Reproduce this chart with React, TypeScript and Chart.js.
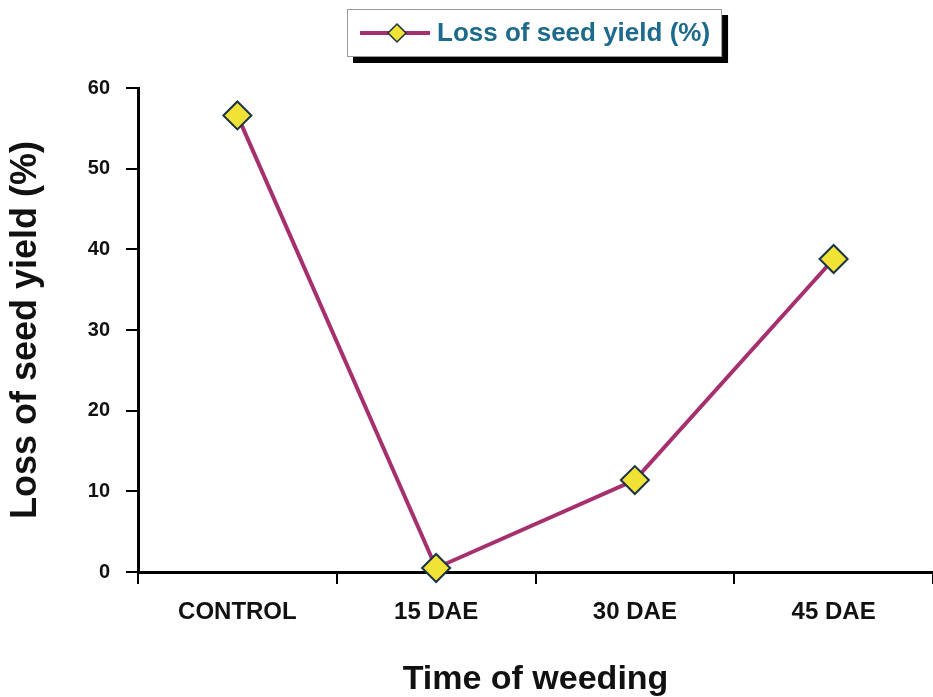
import React, { useEffect, useRef } from "react";
import { Chart, registerables } from "chart.js";

Chart.register(...registerables);

const categories = ["CONTROL", "15 DAE", "30 DAE", "45 DAE"];
const lossValues = [56.6, 0.5, 11.4, 38.8];
const seriesLabel = "Loss of seed yield (%)";
const yTitle = "Loss of seed yield (%)";
const xTitle = "Time of weeding";
const yMin = 0;
const yMax = 60;
const yStep = 10;

const FONT = '"Liberation Sans", Arial, sans-serif';
const LINE_COLOR = "#a6306e";
const POINT_FILL = "#f1e236";
const POINT_BORDER = "#1b3345";
const LEGEND_TEXT = "#1d6a8c";

const legendPlugin = {
  id: "boxLegend",
  afterDraw(chart: any) {
    const ctx = chart.ctx;
    const label = chart.data.datasets[0].label as string;
    ctx.save();
    ctx.font = `bold 26px ${FONT}`;
    const textW = ctx.measureText(label).width;
    const bx = 347;
    const by = 9;
    const bw = 90 + textW + 12;
    const bh = 48;
    ctx.fillStyle = "#000";
    ctx.fillRect(bx + 6, by + 6, bw, bh);
    ctx.fillStyle = "#fff";
    ctx.fillRect(bx, by, bw, bh);
    ctx.strokeStyle = "#999";
    ctx.lineWidth = 1;
    ctx.strokeRect(bx + 0.5, by + 0.5, bw - 1, bh - 1);
    const cy = by + 24;
    ctx.strokeStyle = LINE_COLOR;
    ctx.lineWidth = 4;
    ctx.beginPath();
    ctx.moveTo(bx + 13, cy);
    ctx.lineTo(bx + 83, cy);
    ctx.stroke();
    const dx = bx + 50;
    const r = 9;
    ctx.beginPath();
    ctx.moveTo(dx, cy - r);
    ctx.lineTo(dx + r, cy);
    ctx.lineTo(dx, cy + r);
    ctx.lineTo(dx - r, cy);
    ctx.closePath();
    ctx.fillStyle = POINT_FILL;
    ctx.fill();
    ctx.strokeStyle = POINT_BORDER;
    ctx.lineWidth = 1.5;
    ctx.stroke();
    ctx.fillStyle = LEGEND_TEXT;
    ctx.textBaseline = "middle";
    ctx.textAlign = "left";
    ctx.fillText(label, bx + 90, cy + 1);
    ctx.restore();
  },
};

export default function App() {
  const ref = useRef<HTMLCanvasElement | null>(null);

  useEffect(() => {
    document.body.style.margin = "0";
    document.body.style.background = "#fff";
    const canvas = ref.current;
    if (!canvas) return;
    const chart = new Chart(canvas, {
      type: "line",
      data: {
        labels: categories,
        datasets: [
          {
            label: seriesLabel,
            data: lossValues,
            borderColor: LINE_COLOR,
            borderWidth: 4,
            pointStyle: "rectRot",
            pointRadius: 14,
            pointHoverRadius: 14,
            pointBackgroundColor: POINT_FILL,
            pointBorderColor: POINT_BORDER,
            pointBorderWidth: 2,
            tension: 0,
            fill: false,
            clip: false,
          },
        ],
      },
      options: {
        responsive: false,
        animation: false,
        events: [],
        layout: { autoPadding: false, padding: { top: 88, left: 0, right: 0, bottom: 0 } },
        plugins: {
          legend: { display: false },
          tooltip: { enabled: false },
          title: { display: false },
        },
        scales: {
          x: {
            type: "category",
            offset: true,
            afterFit(scale: any) {
              scale.height = 125;
              scale.paddingLeft = 0;
              scale.paddingRight = 0;
            },
            border: { display: true, color: "#000", width: 3 },
            grid: {
              offset: true,
              drawOnChartArea: false,
              drawTicks: true,
              tickLength: 12,
              color: "#000",
              lineWidth: 2,
            },
            ticks: {
              color: "#111",
              font: { family: FONT, size: 24, weight: "bold" },
              padding: 14,
              maxRotation: 0,
            },
            title: {
              display: true,
              text: xTitle,
              color: "#111",
              font: { family: FONT, size: 34, weight: "bold", lineHeight: 1.0 },
              padding: { top: 0, bottom: 0 },
            },
          },
          y: {
            min: yMin,
            max: yMax,
            afterFit(scale: any) {
              scale.width = 138;
              scale.paddingTop = 0;
              scale.paddingBottom = 0;
            },
            border: { display: true, color: "#000", width: 3 },
            grid: {
              drawOnChartArea: false,
              drawTicks: true,
              tickLength: 12,
              color: "#000",
              lineWidth: 2,
            },
            ticks: {
              stepSize: yStep,
              color: "#111",
              font: { family: FONT, size: 20, weight: "bold" },
              padding: 16,
            },
            title: {
              display: true,
              text: yTitle,
              color: "#111",
              font: { family: FONT, size: 36, weight: "bold", lineHeight: 1.1 },
              padding: { top: 6, bottom: 0 },
            },
          },
        },
      },
      plugins: [legendPlugin],
    });
    return () => chart.destroy();
  }, []);

  return (
    <div style={{ width: 933, height: 697, background: "#fff" }}>
      <canvas ref={ref} width={933} height={697} style={{ display: "block" }} />
    </div>
  );
}
